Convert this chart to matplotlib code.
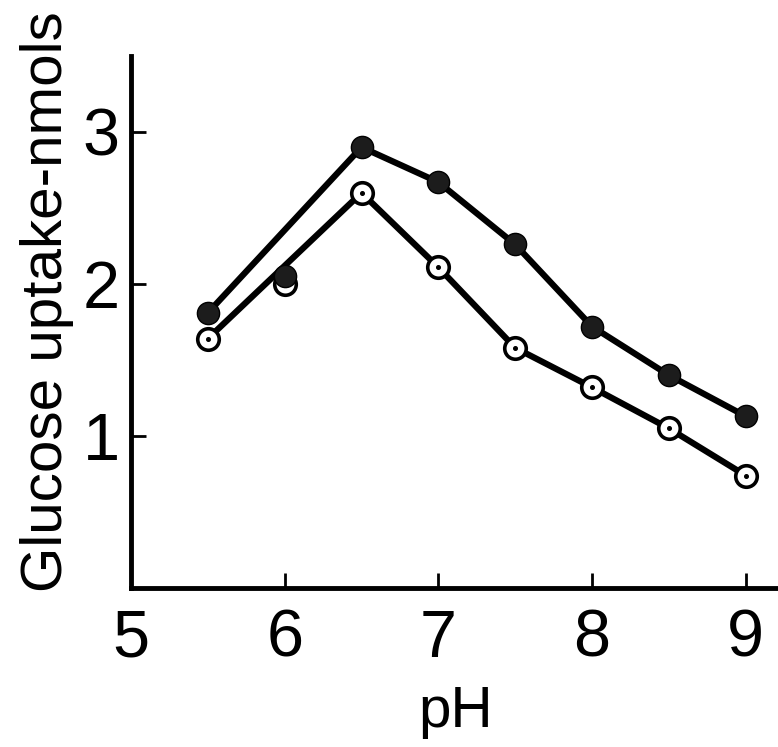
import numpy as np
import matplotlib
matplotlib.use("Agg")
import matplotlib.pyplot as plt

# pH values and glucose uptake (nmols)
ph = np.array([5.5, 6.0, 6.5, 7.0, 7.5, 8.0, 8.5, 9.0])
filled_vals = np.array([1.81, 2.05, 2.90, 2.67, 2.26, 1.72, 1.40, 1.13])
open_vals = np.array([1.64, 2.00, 2.60, 2.11, 1.58, 1.32, 1.05, 0.74])
x_ticks = [5, 6, 7, 8, 9]
y_ticks = [1, 2, 3]

# the curves go straight from 5.5 to 6.5, pH 6 points sit off them
on_line = ph != 6.0

plt.rcParams['font.family'] = ['Liberation Sans', 'DejaVu Sans']

fig = plt.figure(figsize=(7.78, 7.47), dpi=100)
ax = fig.add_axes([131 / 778, 1 - 588 / 747, 1 - 131 / 778, (588 - 56) / 747])

# lines
ax.plot(ph[on_line], open_vals[on_line], color='black', lw=4.5, zorder=2,
        solid_capstyle='round')
ax.plot(ph[on_line], filled_vals[on_line], color='black', lw=4.5, zorder=2,
        solid_capstyle='round')

# open circles with a dot in the middle
ax.plot(ph, open_vals, 'o', ms=15.5, mfc='white', mec='black', mew=2.6, zorder=3)
ax.plot(ph, open_vals, 'o', ms=2.6, color='black', zorder=4)
# filled circles
ax.plot(ph, filled_vals, 'o', ms=16, mfc='#1c1c1c', mec='black', mew=1,
        zorder=5)

ax.set_xlim(5, 9.21)
ax.set_ylim(0, 3.5)
ax.set_xticks(x_ticks)
ax.set_yticks(y_ticks)

for side in ['top', 'right']:
    ax.spines[side].set_visible(False)
for side in ['left', 'bottom']:
    ax.spines[side].set_linewidth(3.5)

ax.tick_params(direction='in', length=11, width=2, labelsize=48)
ax.tick_params(axis='x', pad=15)
ax.tick_params(axis='y', pad=8)

fig.text(47 / 778, 1 - 302 / 747, 'Glucose uptake-nmols', rotation=90,
         ha='center', va='center', fontsize=42)
fig.text(456 / 778, 1 - 727 / 747, 'pH', ha='center', va='baseline',
         fontsize=42)

fig.savefig('out.png', dpi=100)
